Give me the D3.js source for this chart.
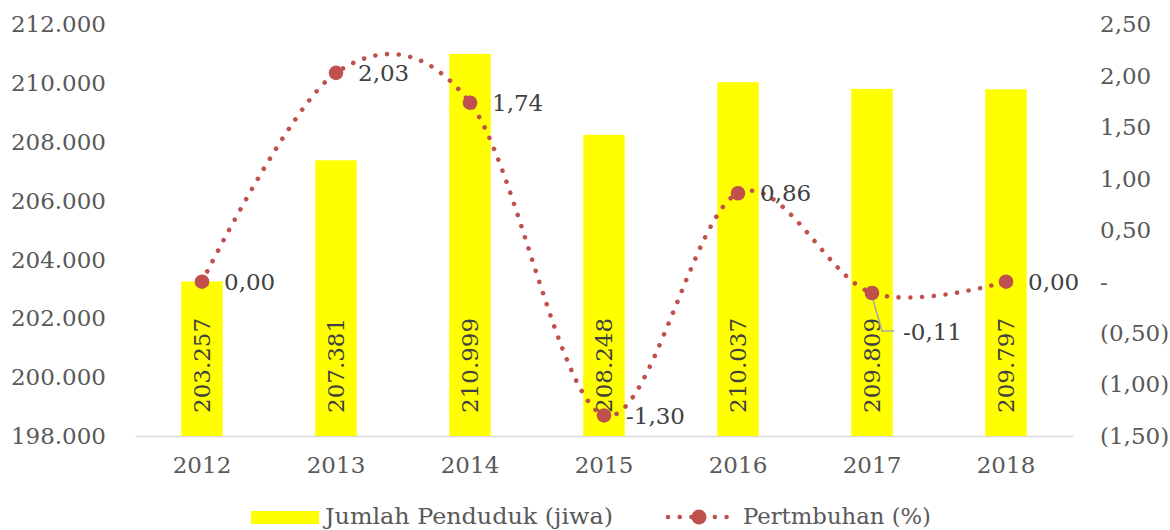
<!DOCTYPE html>
<html>
<head>
<meta charset="utf-8">
<script src="https://cdn.jsdelivr.net/npm/d3@7"></script>
<style>
  body { margin: 0; background: #fff; }
  text { font-family: "DejaVu Serif", "Liberation Serif", serif; }
</style>
</head>
<body>
<svg id="chart" width="1170" height="530"></svg>
<script>
// données du graphique
var tahun = ["2012", "2013", "2014", "2015", "2016", "2017", "2018"];
var penduduk = [203257, 207381, 210999, 208248, 210037, 209809, 209797];
var pertumbuhan = [0.00, 2.03, 1.74, -1.30, 0.86, -0.11, 0.00];
var ticksKiri = [198000, 200000, 202000, 204000, 206000, 208000, 210000, 212000];
var ticksKanan = [-1.5, -1, -0.5, 0, 0.5, 1, 1.5, 2, 2.5];
var legendLabels = ["Jumlah Penduduk (jiwa)", "Pertmbuhan (%)"];

var kuning = "#FFFF00",
    merah = "#C0504D",
    abu = "#595959",
    gelap = "#404040";

var svg = d3.select("#chart");

var id = d3.formatLocale({decimal: ",", thousands: ".", grouping: [3], currency: ["", ""], minus: "-"});
var fmtRibu = id.format(",.0f"),
    fmtPersen = id.format(".2f");

// échelles
var x = d3.scaleBand()
    .domain(tahun)
    .range([135, 1073])
    .paddingInner(0.69)
    .paddingOuter(0.345);

var yKiri = d3.scaleLinear().domain([198000, 212000]).range([436, 24.5]);
var yKanan = d3.scaleLinear().domain([-1.5, 2.5]).range([436, 24.5]);

function cx(t) { return x(t) + x.bandwidth() / 2; }

// axe gauche
var gKiri = svg.append("g")
    .attr("transform", "translate(135,0)")
    .call(d3.axisLeft(yKiri).tickValues(ticksKiri).tickSize(0).tickPadding(29).tickFormat(fmtRibu));
gKiri.select(".domain").remove();

// axe droit
var gKanan = svg.append("g")
    .attr("transform", "translate(1073,0)")
    .call(d3.axisRight(yKanan).tickValues(ticksKanan).tickSize(0).tickPadding(27)
        .tickFormat(function(v) {
            if (Math.abs(v) < 1e-9) return "-";
            if (v < 0) return "(" + fmtPersen(-v) + ")";
            return fmtPersen(v);
        }));
gKanan.select(".domain").remove();

// axe du bas
var gBawah = svg.append("g")
    .attr("transform", "translate(0,436)")
    .call(d3.axisBottom(x).tickSize(0).tickSizeOuter(0).tickPadding(21));
gBawah.select(".domain").attr("stroke", "#d9d9d9").attr("stroke-width", 1.5);

svg.selectAll(".tick text")
    .style("font-family", "'DejaVu Serif', serif")
    .attr("font-size", 23)
    .attr("fill", abu);

// barres
svg.append("g").selectAll("rect")
    .data(penduduk)
    .join("rect")
    .attr("x", function(d, i) { return x(tahun[i]); })
    .attr("y", function(d) { return yKiri(d); })
    .attr("width", x.bandwidth())
    .attr("height", function(d) { return yKiri(198000) - yKiri(d); })
    .attr("fill", kuning);

// étiquettes des barres (verticales)
svg.append("g").selectAll("text")
    .data(penduduk)
    .join("text")
    .attr("transform", function(d, i) { return "translate(" + cx(tahun[i]) + ",413) rotate(-90)"; })
    .attr("dy", "0.36em")
    .attr("text-anchor", "start")
    .attr("font-size", 23)
    .attr("fill", gelap)
    .text(function(d) { return fmtRibu(d); });

// ligne lissée en pointillés
var garis = d3.line()
    .x(function(d, i) { return cx(tahun[i]); })
    .y(function(d) { return yKanan(d); })
    .curve(d3.curveCardinal.tension(0));

svg.append("path")
    .datum(pertumbuhan)
    .attr("d", garis)
    .attr("fill", "none")
    .attr("stroke", merah)
    .attr("stroke-width", 4.6)
    .attr("stroke-linecap", "round")
    .attr("stroke-dasharray", "0.01 11.7");

// trait de rappel pour -0,11
var i17 = tahun.indexOf("2017");
svg.append("polyline")
    .attr("points", [
        [cx(tahun[i17]), yKanan(pertumbuhan[i17]) + 3],
        [cx(tahun[i17]) + 10, yKanan(pertumbuhan[i17]) + 38],
        [cx(tahun[i17]) + 22, yKanan(pertumbuhan[i17]) + 38]
    ].join(" "))
    .attr("fill", "none")
    .attr("stroke", "#a6a6a6")
    .attr("stroke-width", 1.5);

// marqueurs
svg.append("g").selectAll("circle")
    .data(pertumbuhan)
    .join("circle")
    .attr("cx", function(d, i) { return cx(tahun[i]); })
    .attr("cy", function(d) { return yKanan(d); })
    .attr("r", 7.3)
    .attr("fill", merah);

// étiquettes des pourcentages
svg.append("g").selectAll("text")
    .data(pertumbuhan)
    .join("text")
    .attr("x", function(d, i) { return cx(tahun[i]) + (i == i17 ? 31 : 22); })
    .attr("y", function(d, i) { return yKanan(d) + (i == i17 ? 39 : 0); })
    .attr("dy", "0.36em")
    .attr("font-size", 23)
    .attr("fill", gelap)
    .text(function(d) { return fmtPersen(d); });

// légende
var leg = svg.append("g");
leg.append("rect")
    .attr("x", 251).attr("y", 511)
    .attr("width", 68).attr("height", 13)
    .attr("fill", kuning);
leg.append("text")
    .attr("x", 325).attr("y", 524)
    .attr("font-size", 23)
    .attr("fill", abu)
    .attr("textLength", 288)
    .attr("lengthAdjust", "spacingAndGlyphs")
    .text(legendLabels[0]);

leg.append("line")
    .attr("x1", 668).attr("x2", 728)
    .attr("y1", 517).attr("y2", 517)
    .attr("stroke", merah)
    .attr("stroke-width", 4.6)
    .attr("stroke-linecap", "round")
    .attr("stroke-dasharray", "0.01 11.7");
leg.append("circle")
    .attr("cx", 699).attr("cy", 517)
    .attr("r", 7.5)
    .attr("fill", merah);
leg.append("text")
    .attr("x", 743).attr("y", 524)
    .attr("font-size", 23)
    .attr("fill", abu)
    .attr("textLength", 188)
    .attr("lengthAdjust", "spacingAndGlyphs")
    .text(legendLabels[1]);
</script>
</body>
</html>
